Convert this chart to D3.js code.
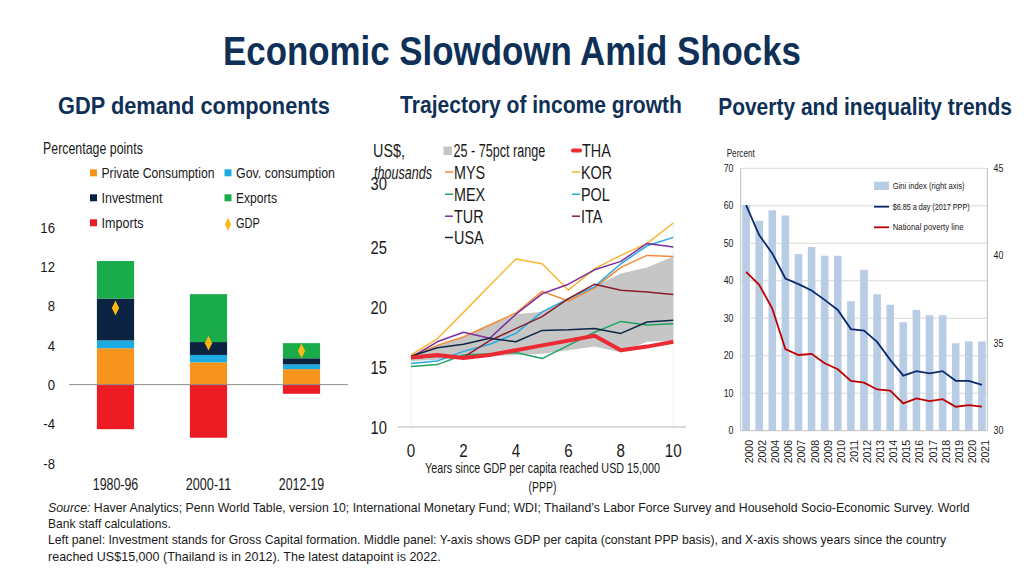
<!DOCTYPE html>
<html><head><meta charset="utf-8">
<script src="https://cdn.jsdelivr.net/npm/d3@7"></script>
<style>
body{margin:0;background:#fff;}
svg{display:block;}
text{font-family:"Liberation Sans",Arial,sans-serif;}
</style></head><body>
<svg id="c" width="1024" height="576"></svg>
<script>
// ---------- DATA ----------
// Left panel
const periods = ["1980-96","2000-11","2012-19"];
const privCons = [3.7, 2.27, 1.58];
const govCons  = [0.8, 0.75, 0.48];
const invest   = [4.25, 1.31, 0.62];
const exportsV = [3.82, 4.87, 1.54];
const importsV = [-4.53, -5.4, -0.93];
const gdp      = [7.8, 4.22, 3.43];
const leftTicks = [-8,-4,0,4,8,12,16];

// Middle panel
const years = [0,1,2,3,4,5,6,7,8,9,10];
const bandLow  = [15.5,15.6,15.7,15.9,16.0,16.1,16.4,16.7,16.2,17.1,17.2];
const bandHigh = [15.9,16.8,17.5,18.5,19.4,19.6,20.7,21.7,22.8,23.3,24.2];
const THA = [15.8,16.0,15.75,16.0,16.4,16.8,17.2,17.6,16.4,16.7,17.1];
const MYS = [15.9,16.8,17.5,18.5,19.5,21.3,20.5,21.6,23.3,24.3,24.2];
const KOR = [16.0,17.35,19.55,21.8,24.0,23.6,21.4,23.2,24.3,25.3,27.0];
const MEX = [15.05,15.2,16.0,16.1,16.2,15.7,16.8,17.9,18.8,18.5,18.6];
const POL = [15.3,15.5,16.3,16.9,17.8,19.6,20.7,21.7,23.6,25.1,25.8];
const TUR = [15.8,17.1,17.9,17.4,19.4,21.1,21.9,23.1,23.8,25.3,25.0];
const ITA = [15.7,15.9,15.8,17.2,18.2,19.2,20.7,21.9,21.4,21.25,21.05];
const USA = [15.9,16.6,16.9,17.4,17.1,18.05,18.1,18.2,17.8,18.75,18.9];
const midYTicks = [10,15,20,25,30];
const midXTicks = [0,2,4,6,8,10];

// Right panel
const povYears = ["2000","2002","2004","2006","2007","2008","2009","2010","2011","2012","2013","2014","2015","2016","2017","2018","2019","2020","2021"];
const gini = [42.9,42.0,42.6,42.3,40.1,40.5,40.0,40.0,37.4,39.2,37.8,37.2,36.2,36.9,36.6,36.6,35.0,35.1,35.1];
const pov685 = [60.2,52.2,47.3,40.6,39.1,37.4,34.9,32.2,27.1,26.7,23.7,18.9,14.7,15.9,15.3,15.9,13.3,13.3,12.2];
const povNat = [42.4,38.9,32.6,21.8,20.2,20.5,18.0,16.4,13.3,12.8,11.0,10.7,7.3,8.6,7.9,8.4,6.4,6.8,6.4];
const rightLTicks = [0,10,20,30,40,50,60,70];
const rightRTicks = [30,35,40,45];

// ---------- HELPERS ----------
const svg = d3.select("#c");
const navy = "#0f3057";
const ink = "#1a1a1a";
// text with horizontal compression; o.w = target width (fit), o.sx = fixed scale
function T(g, x, y, str, size, o={}) {
  const t = g.append("text").attr("font-size", size).attr("fill", o.fill || ink)
    .attr("text-anchor", o.anchor || "start");
  if (o.bold) t.attr("font-weight", "bold");
  if (o.italic) t.attr("font-style", "italic");
  if (o.parts) o.parts.forEach(([s, it]) => t.append("tspan").attr("font-style", it ? "italic" : "normal").text(s));
  else t.text(str);
  let sx = o.sx || 0.82;
  if (o.w) sx = o.w / t.node().getComputedTextLength();
  t.attr("transform", `translate(${x},${y}) scale(${sx},1)`);
  return t;
}

svg.append("rect").attr("width",1024).attr("height",576).attr("fill","#fff");

// Titles
T(svg, 512, 65, "Economic Slowdown Amid Shocks", 40, {bold:true, fill:navy, anchor:"middle", w:578});
T(svg, 194, 114, "GDP demand components", 23, {bold:true, fill:navy, anchor:"middle", w:272});
T(svg, 541, 113, "Trajectory of income growth", 23, {bold:true, fill:navy, anchor:"middle", w:282});
T(svg, 865, 115, "Poverty and inequality trends", 23, {bold:true, fill:navy, anchor:"middle", w:294});

// ===== Left panel =====
const L = svg.append("g");
const xL = d3.scaleBand().domain(periods).range([69,348]).paddingInner(0.6).paddingOuter(0.3);
const yL = d3.scaleLinear().domain([-8,16]).range([463.3,227.3]);
const cols = {pc:"#f7941d",gov:"#1cabe2",inv:"#0b2341",exp:"#1aab4b",imp:"#ed1c24",gdp:"#fbb713"};
periods.forEach((p,i)=>{
  const segs=[[privCons[i],cols.pc],[govCons[i],cols.gov],[invest[i],cols.inv],[exportsV[i],cols.exp]];
  let base=0;
  segs.forEach(([v,c])=>{
    L.append("rect").attr("x",xL(p)).attr("width",xL.bandwidth())
     .attr("y",yL(base+v)).attr("height",yL(base)-yL(base+v)).attr("fill",c);
    base+=v;
  });
  L.append("rect").attr("x",xL(p)).attr("width",xL.bandwidth())
   .attr("y",yL(0)).attr("height",yL(importsV[i])-yL(0)).attr("fill",cols.imp);
  L.append("path").attr("d",d3.symbol(d3.symbolDiamond,64)())
   .attr("transform",`translate(${xL(p)+xL.bandwidth()/2},${yL(gdp[i])}) scale(0.85,1)`).attr("fill",cols.gdp);
});
L.append("line").attr("x1",69).attr("x2",348).attr("y1",yL(0)).attr("y2",yL(0)).attr("stroke","#8c8c8c").attr("stroke-width",1);
leftTicks.forEach(t=>T(L, 55, yL(t)+5.5, String(t), 15.5, {anchor:"end", sx:0.85}));
periods.forEach(p=>T(L, xL(p)+xL.bandwidth()/2, 490, p, 16, {anchor:"middle", w:45.5}));
T(L, 43, 154, "Percentage points", 16, {w:100});
[["Private Consumption",cols.pc,90,178.3,113],["Gov. consumption",cols.gov,224.5,178.3,99],["Investment",cols.inv,90,203.3,61],
 ["Exports",cols.exp,224.5,203.3,41],["Imports",cols.imp,90,228.3,42]].forEach(([t,c,x,y,w])=>{
  L.append("rect").attr("x",x).attr("y",y-9).attr("width",7).attr("height",7).attr("fill",c);
  T(L, x+11.5, y, t, 15, {w});
});
L.append("path").attr("d",d3.symbol(d3.symbolDiamond,50)()).attr("transform","translate(228,224.3) scale(0.8,1)").attr("fill",cols.gdp);
T(L, 236, 228.3, "GDP", 15, {w:24});

// ===== Middle panel =====
const M = svg.append("g");
const xM = d3.scaleLinear().domain([0,10]).range([411,673.3]);
const yM = d3.scaleLinear().domain([10,25]).range([427,247]);
M.append("line").attr("x1",xM(0)).attr("x2",xM(0)).attr("y1",yM(15)).attr("y2",yM(10)).attr("stroke","#eee");
M.append("line").attr("x1",xM(10)).attr("x2",xM(10)).attr("y1",yM(27)).attr("y2",yM(10)).attr("stroke","#eee");
const area = d3.area().x((d,i)=>xM(years[i])).y0((d,i)=>yM(bandLow[i])).y1((d,i)=>yM(bandHigh[i]));
M.append("path").datum(years).attr("d",area).attr("fill","#c6c6c6");
const line = d3.line().x((d,i)=>xM(years[i])).y(d=>yM(d));
const series = [
  ["MYS",MYS,"#f58a35",1.5],["KOR",KOR,"#f7b731",1.5],["MEX",MEX,"#1fa463",1.5],["POL",POL,"#27a9e1",1.5],
  ["TUR",TUR,"#7d2f9d",1.5],["ITA",ITA,"#8a1c2b",1.5],["USA",USA,"#0d2847",1.5],["THA",THA,"#ec2a34",4]];
series.forEach(([n,d,c,w])=>M.append("path").datum(d).attr("d",line).attr("fill","none")
  .attr("stroke",c).attr("stroke-width",w).attr("stroke-linejoin","round"));
M.append("line").attr("x1",398).attr("x2",686).attr("y1",yM(10)).attr("y2",yM(10)).attr("stroke","#b5b5b5").attr("stroke-width",1.2);
midYTicks.forEach(t=>T(M, 387, t===30 ? 190 : yM(t)+6.5, String(t), 18, {anchor:"end", sx:0.82}));
midXTicks.forEach(t=>T(M, xM(t), 456.5, String(t), 18.5, {anchor:"middle", sx:0.82}));
T(M, 542.5, 473.3, "Years since GDP per capita reached USD 15,000", 15, {anchor:"middle", w:235});
T(M, 542.5, 491.7, "(PPP)", 15, {anchor:"middle", w:28});
T(M, 373, 157, "US$,", 18, {w:32});
T(M, 374, 178.5, "thousands", 18, {italic:true, w:58});
// legend
M.append("rect").attr("x",443.5).attr("y",146.5).attr("width",8.5).attr("height",8.5).attr("fill","#c6c6c6");
T(M, 453.5, 157, "25 - 75pct range", 18, {w:92});
const legPos = {MYS:[445,178.5],MEX:[445,200.7],TUR:[445,222.7],USA:[445,244],THA:[572,157],KOR:[572,178.5],POL:[572,200.7],ITA:[572,222.7]};
series.forEach(([n,d,c,w])=>{
  const [x,y]=legPos[n];
  const isT = n==="THA";
  M.append("line").attr("x1",isT?x+1:x).attr("x2",isT?x+8:x+8).attr("y1",y-6.5).attr("y2",y-6.5).attr("stroke",c).attr("stroke-width",isT?4:1.5)
   .attr("stroke-linecap",isT?"round":"butt");
  T(M, isT?x+10:x+9, y, n, 18, {sx:0.8});
});

// ===== Right panel =====
const R = svg.append("g");
const xR = d3.scaleBand().domain(povYears).range([740.7,987.3]).paddingInner(0.42).paddingOuter(0.12);
const yRL = d3.scaleLinear().domain([0,70]).range([430.7,168.3]);
const yRR = d3.scaleLinear().domain([30,45]).range([430.7,168.3]);
rightLTicks.forEach(t=>{
  if(t>0) R.append("line").attr("x1",740.7).attr("x2",987.3).attr("y1",yRL(t)).attr("y2",yRL(t)).attr("stroke","#d9d9d9");
  T(R, 733.5, yRL(t)+3.5, String(t), 10, {anchor:"end", sx:0.88});
});
rightRTicks.forEach(t=>T(R, 993.5, yRR(t)+3.5, String(t), 10, {sx:0.88}));
povYears.forEach((y,i)=>R.append("rect").attr("x",xR(y)).attr("width",xR.bandwidth())
  .attr("y",yRR(gini[i])).attr("height",yRR(30)-yRR(gini[i])).attr("fill","#b8cde4"));
R.append("line").attr("x1",740.7).attr("x2",740.7).attr("y1",168.3).attr("y2",430.7).attr("stroke","#bfbfbf");
R.append("line").attr("x1",987.3).attr("x2",987.3).attr("y1",168.3).attr("y2",430.7).attr("stroke","#bfbfbf");
R.append("line").attr("x1",740.7).attr("x2",987.3).attr("y1",430.7).attr("y2",430.7).attr("stroke","#bfbfbf");
const cx = y=>xR(y)+xR.bandwidth()/2;
const lineR = d3.line().x((d,i)=>cx(povYears[i])).y(d=>yRL(d));
R.append("path").datum(pov685).attr("d",lineR).attr("fill","none").attr("stroke","#0b2a6b").attr("stroke-width",1.8);
R.append("path").datum(povNat).attr("d",lineR).attr("fill","none").attr("stroke","#c00000").attr("stroke-width",1.8);
povYears.forEach(y=>R.append("text").attr("transform",`translate(${cx(y)+7},440) rotate(-90)`)
  .attr("text-anchor","end").attr("font-size",10.5).attr("fill",ink).text(y));
T(R, 726.7, 156.7, "Percent", 10, {w:28});
R.append("rect").attr("x",874).attr("y",181.7).attr("width",15).attr("height",8.3).attr("fill","#b8cde4");
T(R, 892.7, 188.5, "Gini index (right axis)", 9.5, {w:72});
R.append("line").attr("x1",874).attr("x2",889).attr("y1",206.7).attr("y2",206.7).attr("stroke","#0b2a6b").attr("stroke-width",1.8);
T(R, 892.7, 209.5, "$6.85 a day (2017 PPP)", 9.5, {w:77});
R.append("line").attr("x1",874).attr("x2",889).attr("y1",227.3).attr("y2",227.3).attr("stroke","#c00000").attr("stroke-width",1.8);
T(R, 892.7, 229.5, "National poverty line", 9.5, {w:71});

// ===== Footnotes =====
const F = svg.append("g");
T(F, 48, 512, null, 13, {w:922, parts:[["Source:",true],[" Haver Analytics; Penn World Table, version 10; International Monetary Fund; WDI; Thailand’s Labor Force Survey and Household Socio-Economic Survey. World",false]]});
T(F, 48, 527.5, "Bank staff calculations.", 13, {w:123});
T(F, 48, 544, "Left panel: Investment stands for Gross Capital formation. Middle panel: Y-axis shows GDP per capita (constant PPP basis), and X-axis shows years since the country", 13, {w:899});
T(F, 48, 560.5, "reached US$15,000 (Thailand is in 2012). The latest datapoint is 2022.", 13, {w:393});
</script>
</body></html>
